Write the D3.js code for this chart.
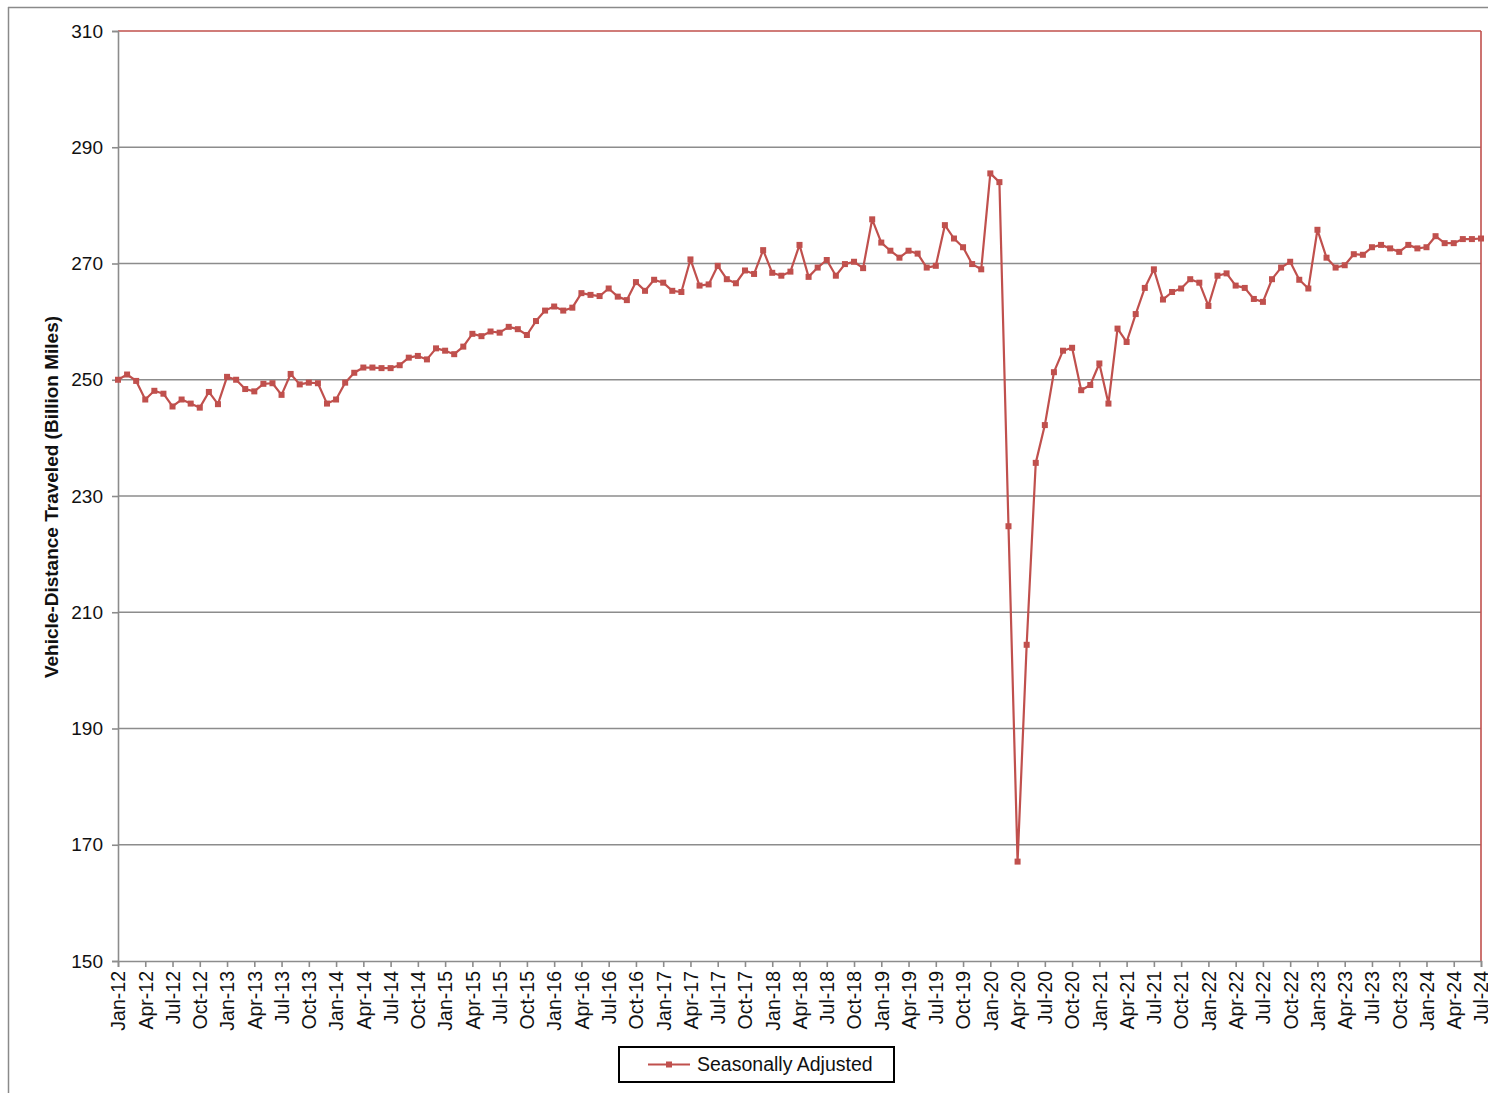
<!DOCTYPE html>
<html>
<head>
<meta charset="utf-8">
<script src="https://cdn.jsdelivr.net/npm/d3@7"></script>
<style>
  html, body { margin: 0; padding: 0; background: #fff; }
  svg { display: block; font-family: Arial, "Liberation Sans", sans-serif; }
</style>
</head>
<body>
<svg id="chart" width="1488" height="1093"></svg>
<script>
// ---- Data (billion miles, seasonally adjusted), Jan-12 .. Jul-24 ----
const startYear = 2012;
const monthNames = ["Jan","Feb","Mar","Apr","May","Jun","Jul","Aug","Sep","Oct","Nov","Dec"];
const v2012 = [250.0, 250.9, 249.8, 246.6, 248.1, 247.6, 245.4, 246.6, 245.9, 245.2, 247.9, 245.8];
const v2013 = [250.5, 250.0, 248.4, 248.0, 249.3, 249.4, 247.4, 251.0, 249.2, 249.5, 249.4, 245.9];
const v2014 = [246.6, 249.5, 251.2, 252.1, 252.1, 252.0, 252.0, 252.5, 253.8, 254.1, 253.5, 255.4];
const v2015 = [255.0, 254.4, 255.7, 257.9, 257.5, 258.3, 258.1, 259.1, 258.7, 257.7, 260.1, 261.9];
const v2016 = [262.6, 261.9, 262.4, 264.9, 264.6, 264.4, 265.7, 264.3, 263.7, 266.8, 265.3, 267.2];
const v2017 = [266.7, 265.3, 265.1, 270.7, 266.2, 266.4, 269.6, 267.3, 266.6, 268.8, 268.2, 272.3];
const v2018 = [268.4, 267.9, 268.6, 273.2, 267.7, 269.3, 270.6, 267.9, 269.9, 270.3, 269.2, 277.6];
const v2019 = [273.6, 272.2, 271.0, 272.2, 271.7, 269.3, 269.6, 276.6, 274.3, 272.8, 269.9, 269.0];
const v2020 = [285.5, 284.0, 224.8, 167.1, 204.4, 235.7, 242.2, 251.3, 255.0, 255.5, 248.2, 249.1];
const v2021 = [252.8, 245.9, 258.8, 256.5, 261.3, 265.8, 269.0, 263.8, 265.1, 265.7, 267.3, 266.7];
const v2022 = [262.7, 267.9, 268.3, 266.2, 265.8, 263.9, 263.4, 267.3, 269.3, 270.3, 267.2, 265.7];
const v2023 = [275.8, 271.0, 269.3, 269.7, 271.6, 271.5, 272.8, 273.2, 272.6, 272.0, 273.2, 272.6];
const v2024 = [272.8, 274.7, 273.5, 273.5, 274.2, 274.2, 274.3];
const yTicks = [150, 170, 190, 210, 230, 250, 270, 290, 310];
const seriesName = "Seasonally Adjusted";
const yTitle = "Vehicle-Distance Traveled (Billion Miles)";

const values = [].concat(v2012, v2013, v2014, v2015, v2016, v2017, v2018, v2019, v2020, v2021, v2022, v2023, v2024);
const categories = values.map((_, i) => {
  const yr = startYear + Math.floor(i / 12);
  return monthNames[i % 12] + "-" + String(yr % 100).padStart(2, "0");
});
const data = values.map((v, i) => ({ i, label: categories[i], v }));

(function draw() {
  const svg = d3.select("#chart");
  const pL = 118, pR = 1481, pT = 31, pB = 961;
  const red = "#C0504D";
  const gridGray = "#8c8c8c";
  const font = "Arial, 'Liberation Sans', sans-serif";

  // outer frame
  svg.append("line").attr("x1", 8.5).attr("x2", 8.5).attr("y1", 7).attr("y2", 1093)
    .attr("stroke", "#8a8a8a").attr("stroke-width", 1.5);
  svg.append("line").attr("x1", 8).attr("x2", 1488).attr("y1", 7.5).attr("y2", 7.5)
    .attr("stroke", "#8a8a8a").attr("stroke-width", 1.5);

  const x = d3.scaleLinear().domain([0, values.length - 1]).range([pL, pR]);
  const y = d3.scaleLinear().domain([150, 310]).range([pB, pT]);

  // gridlines
  svg.append("g").selectAll("line")
    .data(yTicks.filter(t => t > 150 && t < 310))
    .join("line")
    .attr("x1", pL).attr("x2", pR)
    .attr("y1", d => y(d)).attr("y2", d => y(d))
    .attr("stroke", gridGray).attr("stroke-width", 1.6);

  // top & right red border
  svg.append("line").attr("x1", pL).attr("x2", pR).attr("y1", y(310)).attr("y2", y(310))
    .attr("stroke", red).attr("stroke-width", 1.6);
  svg.append("line").attr("x1", pR).attr("x2", pR).attr("y1", pT).attr("y2", pB)
    .attr("stroke", red).attr("stroke-width", 1.6);

  // Y axis
  const yAxis = d3.axisLeft(y).tickValues(yTicks).tickSize(6).tickPadding(9).tickFormat(d3.format("d"));
  const gy = svg.append("g").attr("transform", `translate(${pL},0)`).call(yAxis);
  gy.select(".domain").attr("stroke", gridGray).attr("stroke-width", 1.6);
  gy.selectAll(".tick line").attr("stroke", gridGray).attr("stroke-width", 1.6);
  gy.selectAll(".tick text").attr("font-size", 19).attr("fill", "#111")
    .attr("font-family", font);

  // X axis
  const tickIdx = d3.range(0, values.length, 3);
  const xAxis = d3.axisBottom(x).tickValues(tickIdx).tickSize(6).tickFormat(i => categories[i]);
  const gx = svg.append("g").attr("transform", `translate(0,${pB})`).call(xAxis);
  gx.select(".domain").attr("stroke", gridGray).attr("stroke-width", 1.6);
  gx.selectAll(".tick line").attr("stroke", gridGray).attr("stroke-width", 1.6);
  gx.selectAll(".tick text")
    .attr("font-size", 19.5).attr("fill", "#111")
    .attr("font-family", font)
    .attr("text-anchor", "end")
    .attr("transform", "rotate(-90)")
    .attr("x", -10).attr("y", 0).attr("dy", "0.35em");

  // Y title
  svg.append("text")
    .attr("transform", `translate(51,${(pT + pB) / 2 + 1}) rotate(-90)`)
    .attr("text-anchor", "middle").attr("dy", "0.35em")
    .attr("font-size", 19).attr("font-weight", "bold").attr("fill", "#111")
    .attr("font-family", font)
    .text(yTitle);

  // Line
  const line = d3.line().x(d => x(d.i)).y(d => y(d.v));
  svg.append("path").datum(data)
    .attr("d", line).attr("fill", "none")
    .attr("stroke", red).attr("stroke-width", 2.2).attr("stroke-linejoin", "round");

  // Markers
  const ms = 6;
  svg.append("g").selectAll("rect").data(data).join("rect")
    .attr("x", d => x(d.i) - ms / 2).attr("y", d => y(d.v) - ms / 2)
    .attr("width", ms).attr("height", ms)
    .attr("fill", red);

  // Legend
  const lg = svg.append("g");
  lg.append("rect").attr("x", 619).attr("y", 1047).attr("width", 275).attr("height", 35)
    .attr("fill", "#fff").attr("stroke", "#000").attr("stroke-width", 2);
  lg.append("line").attr("x1", 648).attr("x2", 690).attr("y1", 1064.5).attr("y2", 1064.5)
    .attr("stroke", red).attr("stroke-width", 2);
  lg.append("rect").attr("x", 669 - ms / 2).attr("y", 1064.5 - ms / 2).attr("width", ms).attr("height", ms)
    .attr("fill", red);
  lg.append("text").attr("x", 697).attr("y", 1064.5).attr("dy", "0.35em")
    .attr("font-size", 19.5).attr("fill", "#111").attr("font-family", font).text(seriesName);
})();
</script>
</body>
</html>
